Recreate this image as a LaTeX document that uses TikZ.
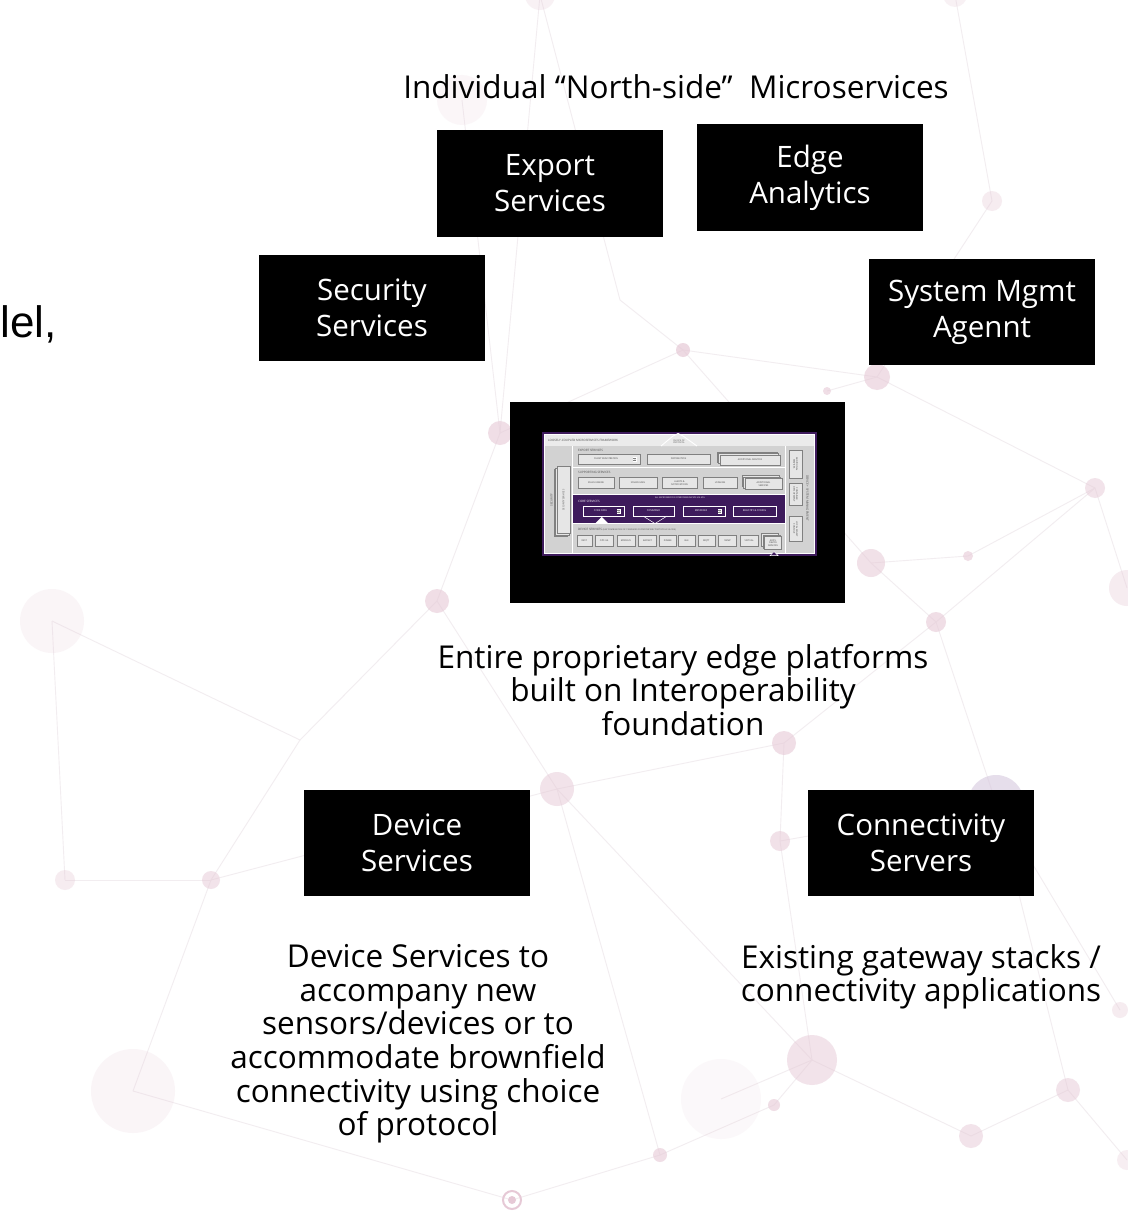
\documentclass[tikz,border=0pt]{standalone}
\usepackage{fontspec}
\setmainfont{Open Sans}
\newfontfamily\arialf{Liberation Sans}
\usetikzlibrary{calc}
\definecolor{netpink}{HTML}{E6C9D6}
\definecolor{netline}{HTML}{F2EDF0}
\definecolor{netpurple}{HTML}{D6C8DE}
\definecolor{edxpurple}{HTML}{3E1B5C}
\definecolor{edxgray}{HTML}{D2D2D2}
\definecolor{edxbox}{HTML}{E6E6E6}
\definecolor{edxedge}{HTML}{808080}
\tikzset{
  blackbox/.style={fill=black, text=white, minimum width=226pt, minimum height=106pt,
    align=center, inner sep=0pt, font=\fontsize{29.5}{36}\selectfont,
    execute at begin node={\rule{0pt}{27pt}}},
  caption/.style={align=center, inner sep=0pt, font=\fontsize{31.5}{33.6}\selectfont},
  netedge/.style={draw=netline, line width=0.9pt},
  mini/.style={draw=edxedge, fill=edxbox, line width=0.35pt, inner sep=0pt,
    font=\fontsize{2.3}{2.7}\selectfont, text=black!75, align=center},
  minicore/.style={draw=white, fill=edxpurple, line width=0.45pt, inner sep=0pt,
    font=\fontsize{2.5}{2.9}\selectfont, text=white, align=center},
  minilabel/.style={inner sep=0pt, font=\fontsize{3}{3.3}\selectfont, text=black!70, anchor=west},
}
\newcommand\edxbox[6]{\node[mini, minimum width=#4pt, minimum height=#5pt] (#1) at (#2,#3) {#6};}
\newcommand\edxstack[6]{%
  \draw[draw=edxedge, fill=edxbox, line width=0.35pt] ($(#2,#3)+(-#4/2-3,-#5/2-3)$) rectangle ++(#4,#5);
  \draw[draw=edxedge, fill=edxbox, line width=0.35pt] ($(#2,#3)+(-#4/2-1.5,-#5/2-1.5)$) rectangle ++(#4,#5);
  \node[mini, minimum width=#4pt, minimum height=#5pt] (#1) at (#2,#3) {#6};}
\newcommand\edxdb[3]{%
  \node[draw=white, fill=edxbox, inner sep=0pt, minimum width=3.2pt, minimum height=4.2pt, line width=0.3pt] (#1) at (#2,#3) {};
  \draw[edxedge, line width=0.25pt] ($(#1.west)+(0,-0.7)$) -- ($(#1.east)+(0,-0.7)$) ($(#1.west)+(0,0.7)$) -- ($(#1.east)+(0,0.7)$);}
\begin{document}
\begin{tikzpicture}[x=1pt, y=-1pt]
\useasboundingbox[fill=white] (0,0) rectangle (1127,1212);

% ---------- faint background network ----------
\foreach \n/\x/\y in {n1/683/350, n2/827/391, n3/877/377, n4/500/433, n5/871/563,
  n6/968/556, n7/1095/488, n8/437/601, n9/936/622, n10/784/743, n11/557/789,
  n12/996/803, n13/780/841, n14/812/1060, n15/1068/1090, n16/971/1136, n17/774/1105,
  n18/660/1155, n19/512/1200, n20/52/621, n21/133/1091, n22/211/880, n23/65/880,
  n24/992/201, n25/1127/588, n26/721/1099, n27/540/-5, n28/955/-5, n29/462/100,
  n30/1120/1010, n31/300/740, n32/1127/1160, n33/620/300}
  {\coordinate (\n) at (\x,\y);}
\foreach \a/\b in {n1/n4, n1/n3, n1/n5, n1/n33, n3/n7, n3/n24, n3/n2, n5/n9, n5/n6, n6/n7,
  n9/n12, n9/n10, n10/n11, n10/n13, n11/n8, n11/n22, n8/n4, n12/n15, n12/n13, n13/n14,
  n14/n17, n14/n16, n16/n15, n17/n18, n18/n19, n22/n23, n22/n21, n21/n19, n11/n14,
  n20/n23, n24/n28, n27/n4, n33/n27, n29/n4, n7/n25, n12/n30, n15/n32, n31/n8, n31/n22,
  n20/n31, n9/n7, n26/n14, n18/n11}
  {\draw[netedge] (\a) -- (\b);}
\foreach \n/\r/\o in {n1/7/0.7, n2/4/0.6, n3/13/0.6, n4/12/0.6, n5/14/0.55, n6/5/0.6,
  n7/10/0.5, n8/12/0.6, n9/10/0.6, n10/12/0.6, n11/17/0.5, n13/10/0.55, n14/25/0.5,
  n15/12/0.5, n16/12/0.5, n17/6/0.6, n18/7/0.6, n20/32/0.18, n21/42/0.18, n22/9/0.5,
  n23/10/0.35, n24/10/0.35, n25/18/0.35, n26/40/0.12, n27/15/0.25, n28/12/0.25,
  n29/25/0.15, n30/8/0.35, n32/10/0.3}
  {\fill[netpink, fill opacity=\o] (\n) circle (\r);}
\fill[netpurple, fill opacity=0.6] (n12) circle (28);
\draw[netpink, line width=2pt] (n19) circle (9);
\fill[netpink] (n19) circle (4);

% ---------- left cut text ----------
\node[font=\arialf\fontsize{44}{48}\selectfont, inner sep=0pt, anchor=base east] (cut) at (57,337) {lel,};

% ---------- title ----------
\node[inner sep=0pt, font=\fontsize{31.5}{34}\selectfont] (title) at (676,87) {Individual “North-side”\ \ Microservices};

% ---------- black boxes ----------
\node[blackbox] (export) at (550,183.5) {Export\\Services};
\node[blackbox] (edge) at (810,177.5) {Edge\\Analytics};
\node[blackbox] (security) at (372,308) {Security\\Services};
\node[blackbox] (sysmgmt) at (982,312) {System Mgmt\\Agennt};
\node[blackbox] (device) at (417,843) {Device\\Services};
\node[blackbox] (conn) at (921,843) {Connectivity\\Servers};

% ---------- platform image ----------
\node[fill=black, minimum width=335pt, minimum height=201pt, inner sep=0pt] (platform) at (677.5,502.5) {};
\draw[edxpurple, line width=1.4pt, fill=edxgray] (543,433) rectangle (816,555);
\draw[white, line width=0.9pt] (544.2,434.2) rectangle (814.8,553.8);
\fill[white!92!black] (544.7,434.7) rectangle (814.3,445.5);
\draw[white, line width=0.9pt, fill=white!92!black] (661,446) -- (673,436) -- (678,433.5) -- (683,436) -- (697,446);
\node[minilabel] (fwtitle) at (548,440.2) {LOOSELY-COUPLED MICROSERVICES FRAMEWORK};
\node[inner sep=0pt, font=\fontsize{2.2}{2.5}\selectfont, text=black!70, align=center] (choice) at (679,441.5) {CHOICE OF\\PROTOCOL};
% column and row separators
\draw[white, line width=0.9pt] (572.5,445.5) -- (572.5,553.8) (785.5,445.5) -- (785.5,553.8)
  (572.5,467.5) -- (785.5,467.5) (572.5,523.5) -- (785.5,523.5);
\fill[edxpurple] (573,494) rectangle (785,523);
\draw[white, line width=0.9pt] (572.5,494) -- (785.5,494);

% security column
\node[inner sep=0pt, rotate=90, font=\fontsize{2.9}{3.1}\selectfont, text=black!70] (secl) at (551.7,500) {SECURITY};
\draw[draw=edxedge, fill=edxbox, line width=0.35pt] (554.3,469.5) rectangle ++(13.3,66.7);
\draw[draw=edxedge, fill=edxbox, line width=0.35pt] (555.5,468.1) rectangle ++(13.3,66.7);
\node[mini, rotate=90, minimum width=66.7pt, minimum height=13.3pt] (secsvc) at (563.6,500) {SECURITY SERVICES};

% export row
\node[minilabel] (explabel) at (578,450.8) {EXPORT SERVICES};
\edxbox{clientreg}{609}{459}{62}{10}{CLIENT REGISTRATION\hspace{6pt}}
\edxdb{db1}{634.5}{459}
\edxbox{distrib}{678.5}{459}{63}{10}{DISTRIBUTION}
\edxstack{addexp}{750}{460}{60}{10}{ADDITIONAL SERVICES}

% supporting row
\node[minilabel] (suplabel) at (578,472.6) {SUPPORTING SERVICES};
\edxbox{rules}{596}{483}{36}{11}{RULES ENGINE}
\edxbox{sched}{638}{483}{38}{11}{SCHEDULING}
\edxbox{alerts}{679.5}{483}{35}{11}{ALERTS \&\\NOTIFICATIONS}
\edxbox{logging}{720}{483}{34}{11}{LOGGING}
\edxstack{addsup}{763.5}{484}{37}{11}{ADDITIONAL\\SERVICES}

% core row
\node[minilabel, text=white] (corelabel) at (578,501) {CORE SERVICES};
\node[inner sep=0pt, font=\fontsize{2.1}{2.4}\selectfont, text=white] (apis) at (680,497.6) {ALL MICROSERVICES INTERCOMMUNICATE VIA APIs};
\node[minicore, minimum width=41pt, minimum height=10pt] (coredata) at (603.5,511) {CORE DATA\hspace{6pt}};
\edxdb{db2}{618.5}{511}
\node[minicore, minimum width=41pt, minimum height=10pt] (command) at (653.5,511) {COMMAND};
\node[minicore, minimum width=42pt, minimum height=10pt] (metadata) at (704,511) {METADATA\hspace{6pt}};
\edxdb{db3}{719.5}{511}
\node[minicore, minimum width=43pt, minimum height=10pt] (registry) at (754.5,511) {REGISTRY \& CONFIG};
\fill[white] (601.7,516.8) -- (595,523.6) -- (608.5,523.6) -- cycle;
\draw[white, line width=0.5pt] (643,516) -- (655,523.6) -- (667,516);

% device row
\node[minilabel] (devlabel) at (578,529.8) {DEVICE SERVICES \fontsize{2.1}{2.4}\selectfont (ANY COMBINATION OF STANDARD OR PROPRIETARY PROTOCOLS VIA SDK)};
\edxbox{rest}{584.2}{541}{15}{11}{REST}
\edxbox{opcua}{604.2}{541}{18}{11}{OPC-UA}
\edxbox{modbus}{625.8}{541}{18}{11}{MODBUS}
\edxbox{bacnet}{647.5}{541}{18}{11}{BACNET}
\edxbox{zigbee}{667.8}{541}{17.5}{11}{ZIGBEE}
\edxbox{ble}{686.7}{541}{16.5}{11}{BLE}
\edxbox{mqtt}{706.3}{541}{17}{11}{MQTT}
\edxbox{snmp}{727.5}{541}{18}{11}{SNMP}
\edxbox{virtual}{749.2}{541}{18}{11}{VIRTUAL}
\edxstack{addl}{773}{543}{17}{13}{ADD'L\\DEVICE\\SERVICES}
\draw[white, line width=0.5pt, fill=edxpurple] (774,551.6) -- (770,555.6) -- (778,555.6) -- cycle;

% management column
\node[inner sep=0pt, rotate=-90, font=\fontsize{3}{3.3}\selectfont, text=black!70] (mgmtl) at (807.5,498) {DEVICE + SYSTEM MANAGEMENT};
\node[mini, rotate=-90, minimum width=28pt, minimum height=12.4pt] (addmg) at (795.5,464) {ADDITIONAL\\SERVICES};
\node[mini, rotate=-90, minimum width=22pt, minimum height=12.4pt] (container) at (795.5,494) {CONTAINER\\DEPLOYMENT};
\node[mini, rotate=-90, minimum width=25pt, minimum height=12.4pt] (console) at (795.5,529) {LOCAL MGMT\\CONSOLE};

% ---------- captions ----------
\node[caption] (platcap) at (683,690) {Entire proprietary edge platforms\\built on Interoperability\\foundation};
\node[caption] (devcap) at (418,1044) {Device Services to\\accompany new\\sensors/devices or to\\accommodate brownfield\\connectivity using choice\\of protocol};
\node[caption] (conncap) at (921,977) {Existing gateway stacks /\\connectivity applications};
\end{tikzpicture}
\end{document}
